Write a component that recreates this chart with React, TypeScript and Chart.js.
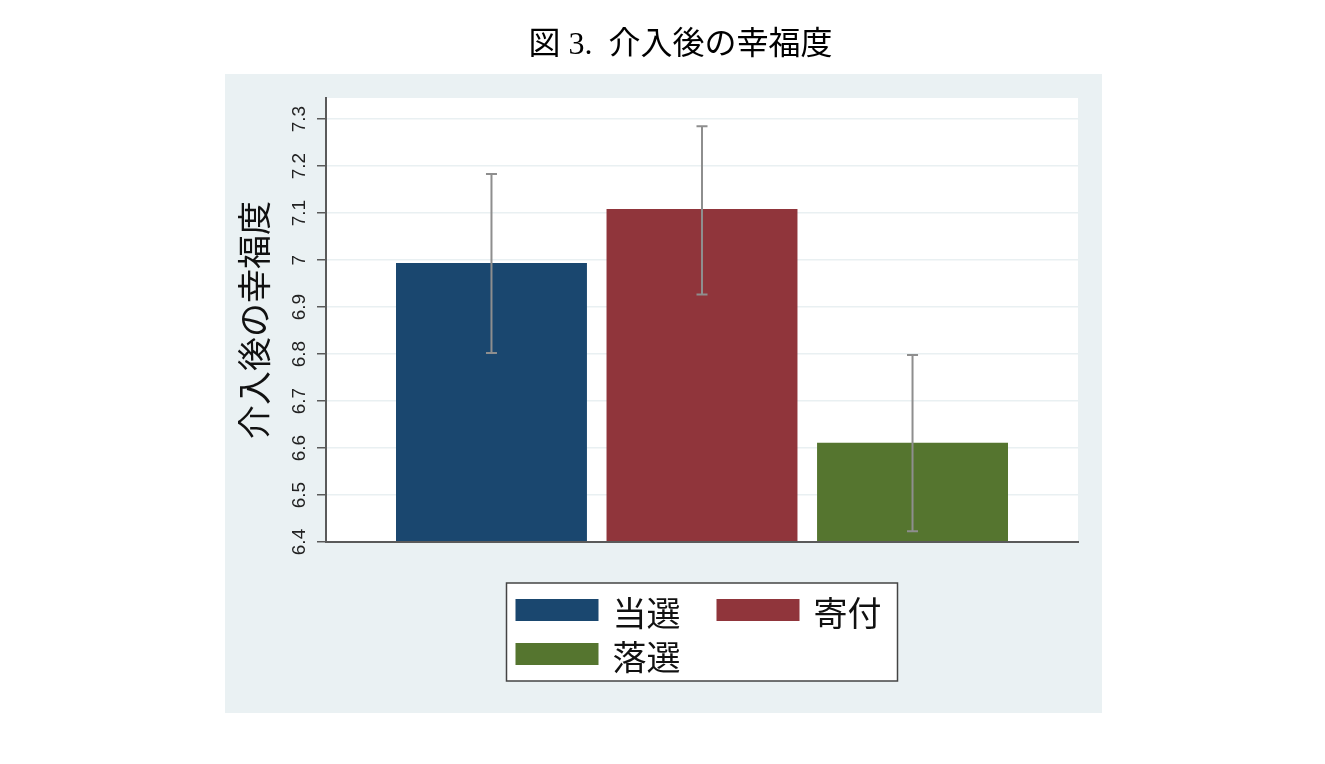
import { useEffect, useRef } from 'react';
import { Chart, registerables } from 'chart.js';

Chart.register(...registerables);

// ---- data ----
const TITLE = '図 3.  介入後の幸福度';
const Y_TITLE = '介入後の幸福度';
const CATEGORIES = ['当選', '寄付', '落選'];
const MEANS = [6.994, 7.109, 6.611];
const CI_LOW = [6.802, 6.927, 6.423];
const CI_HIGH = [7.183, 7.285, 6.798];
const Y_TICKS = [6.4, 6.5, 6.6, 6.7, 6.8, 6.9, 7.0, 7.1, 7.2, 7.3];
const Y_TICK_LABELS = ['6.4', '6.5', '6.6', '6.7', '6.8', '6.9', '7', '7.1', '7.2', '7.3'];
const Y_MIN = 6.4;
const Y_MAX = 7.345;

// ---- styles ----
const COLORS = ['#1a476f', '#90353b', '#55752f'];
const PANEL = '#eaf1f3';
const GRID = '#e9f0f2';
const AXIS = '#5a5a5a';
const ERR = '#8e8e8e';
const CJK = "'Noto Sans CJK JP', sans-serif";

const decorPlugin = {
  id: 'decor',
  beforeDraw(chart: any) {
    const { ctx, chartArea: ca, width, height } = chart;
    ctx.save();
    ctx.fillStyle = '#ffffff';
    ctx.fillRect(0, 0, width, height);
    ctx.fillStyle = PANEL;
    ctx.fillRect(225, 74, 877, 639);
    ctx.fillStyle = '#ffffff';
    ctx.fillRect(ca.left, ca.top, ca.right - ca.left, ca.bottom - ca.top);
    ctx.fillStyle = '#000000';
    ctx.font = "32px 'Liberation Serif', 'Noto Sans CJK JP', serif";
    ctx.textAlign = 'center';
    ctx.textBaseline = 'middle';
    ctx.fillText(TITLE, 680.5, 46);
    ctx.restore();
  },
  afterDatasetsDraw(chart: any) {
    const { ctx } = chart;
    const ys = chart.scales.y;
    const meta = chart.getDatasetMeta(0);
    ctx.save();
    ctx.strokeStyle = ERR;
    ctx.lineWidth = 2;
    CATEGORIES.forEach((_, i) => {
      const px = meta.data[i].x;
      const lo = ys.getPixelForValue(CI_LOW[i]);
      const hi = ys.getPixelForValue(CI_HIGH[i]);
      ctx.beginPath();
      ctx.moveTo(px, lo);
      ctx.lineTo(px, hi);
      ctx.moveTo(px - 5.5, lo);
      ctx.lineTo(px + 5.5, lo);
      ctx.moveTo(px - 5.5, hi);
      ctx.lineTo(px + 5.5, hi);
      ctx.stroke();
    });
    ctx.restore();
  },
  afterDraw(chart: any) {
    const { ctx, chartArea: ca } = chart;
    const cx = (ca.left + ca.right) / 2;
    const lx = cx - 195.5;
    const ly = ca.bottom + 41;
    ctx.save();
    ctx.fillStyle = '#ffffff';
    ctx.fillRect(lx, ly, 391, 98);
    ctx.strokeStyle = '#444444';
    ctx.lineWidth = 1.5;
    ctx.strokeRect(lx, ly, 391, 98);
    ctx.font = `34px ${CJK}`;
    ctx.textAlign = 'left';
    ctx.textBaseline = 'middle';
    CATEGORIES.forEach((label, i) => {
      const col = i % 2;
      const row = Math.floor(i / 2);
      const sx = lx + 9 + col * 201;
      const sy = ly + 16 + row * 44;
      ctx.fillStyle = COLORS[i];
      ctx.fillRect(sx, sy, 83, 22);
      ctx.fillStyle = '#111111';
      ctx.fillText(label, sx + 97, sy + 14);
    });
    ctx.restore();
  },
};

export default function App() {
  const ref = useRef<HTMLCanvasElement | null>(null);

  useEffect(() => {
    if (!ref.current) return;
    const chart = new Chart(ref.current, {
      type: 'bar',
      data: {
        datasets: [
          {
            label: Y_TITLE,
            data: CATEGORIES.map((_, i) => ({ x: i + 1, y: MEANS[i] })) as any,
            backgroundColor: COLORS,
            borderWidth: 0,
            categoryPercentage: 1,
            barPercentage: 0.907,
          },
        ],
      },
      options: {
        animation: false,
        responsive: true,
        maintainAspectRatio: false,
        layout: { padding: { left: 225, right: 247, top: 98, bottom: 222 } },
        plugins: {
          legend: { display: false },
          title: { display: false },
          tooltip: { enabled: false },
        },
        scales: {
          x: {
            type: 'linear',
            min: 0.214,
            max: 3.786,
            offset: false,
            afterBuildTicks: (s: any) => {
              s.ticks = CATEGORIES.map((_, i) => ({ value: i + 1 }));
            },
            ticks: { display: false },
            grid: { display: false, drawTicks: false, offset: false },
            border: { display: true, color: AXIS, width: 2, z: 1 },
            afterFit: (s: any) => {
              s.height = 0;
            },
          },
          y: {
            type: 'linear',
            min: Y_MIN,
            max: Y_MAX,
            afterBuildTicks: (s: any) => {
              s.ticks = Y_TICKS.map((v) => ({ value: v }));
            },
            ticks: {
              callback: (_v: any, i: number) => Y_TICK_LABELS[i],
              minRotation: 90,
              maxRotation: 90,
              crossAlign: 'center',
              padding: 4,
              color: '#222222',
              font: { family: "'Liberation Sans', Arial, sans-serif", size: 19 },
            },
            grid: {
              color: GRID,
              lineWidth: 1.5,
              drawTicks: true,
              tickLength: 9,
              tickColor: AXIS,
              tickWidth: 1.5,
            },
            border: { display: true, color: AXIS, width: 2, z: 1 },
            title: {
              display: true,
              text: Y_TITLE,
              color: '#111111',
              font: { family: CJK, size: 34 },
              padding: { top: 9, bottom: 0 },
            },
            afterFit: (s: any) => {
              s.width = 101;
            },
          },
        },
      } as any,
      plugins: [decorPlugin],
    });
    return () => chart.destroy();
  }, []);

  return (
    <div style={{ position: 'absolute', left: 0, top: 0, width: 1325, height: 764 }}>
      <canvas ref={ref} />
    </div>
  );
}
